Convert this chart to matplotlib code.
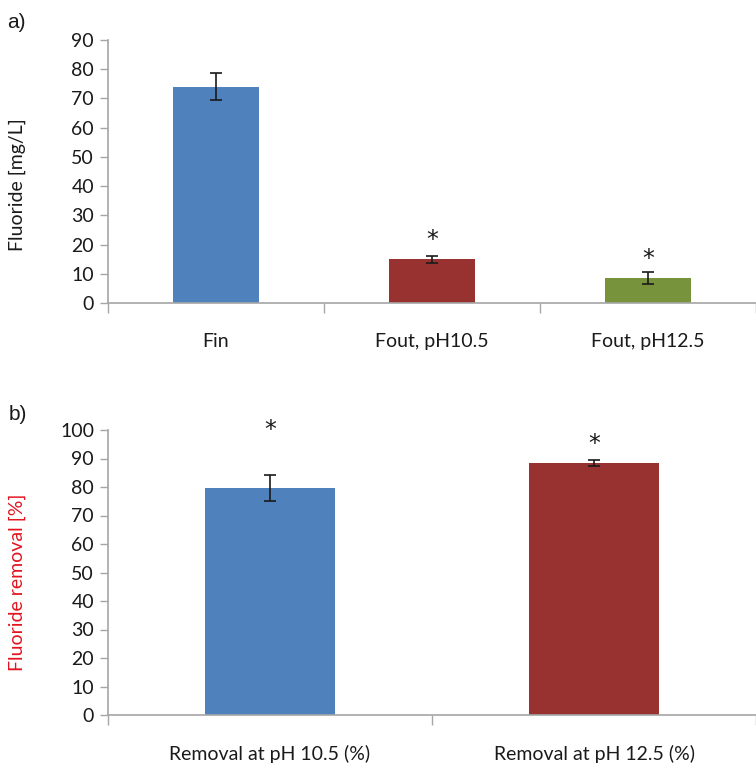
import numpy as np
import matplotlib.pyplot as plt

plt.rcParams['font.family'] = ['Lato', 'DejaVu Sans']

# panel a: fluoride concentration
cat_a = ['Fin', 'Fout, pH10.5', 'Fout, pH12.5']
val_a = [74.0, 15.0, 8.6]
err_a = [4.6, 1.2, 2.0]
star_a = [None, 24.0, 17.5]
col_a = ['#4F81BD', '#973230', '#77933C']

# panel b: removal efficiency
cat_b = ['Removal at pH 10.5 (%)', 'Removal at pH 12.5 (%)']
val_b = [79.7, 88.3]
err_b = [4.5, 1.0]
star_b = [102.5, 97.5]
col_b = ['#4F81BD', '#973230']

W, H = 756, 766
fig = plt.figure(figsize=(W / 100, H / 100), dpi=100)

txt = '#1a1a1a'
grey = '#a6a6a6'


def panel(rect, cats, vals, errs, stars, cols, ymax, ylab, labcol, laby,
          tag, tagxy):
    ax = fig.add_axes(rect)
    x = np.arange(len(cats))
    ax.bar(x, vals, width=0.4, color=cols, zorder=2)
    ax.errorbar(x, vals, yerr=errs, fmt='none', ecolor=txt, elinewidth=1.2,
                capsize=4, capthick=1.2, zorder=3)
    # significance asterisks, centred on the given value
    for xi, s in zip(x, stars):
        if s is not None:
            ax.annotate('*', (xi, s), xytext=(0, -10), textcoords='offset points',
                        ha='center', va='baseline', fontsize=17,
                        family='DejaVu Sans', color=txt, annotation_clip=False)
    ncat = len(cats)
    width_px = rect[2] * W
    cat_px = 654 / ncat
    ax.set_xlim(-0.5, -0.5 + width_px / cat_px)
    ax.set_ylim(0, ymax)
    ax.set_yticks(np.arange(0, ymax + 1, 10))
    ax.set_xticks(list(np.arange(-0.5, ncat, 1.0)))
    ax.set_xticklabels([])
    ax.set_xticks(x, minor=True)
    ax.set_xticklabels(cats, minor=True)
    ax.tick_params(axis='x', which='major', length=7, color=grey, width=1)
    ax.tick_params(axis='x', which='minor', length=0, pad=21.5,
                   labelsize=14, labelcolor=txt)
    ax.tick_params(axis='y', length=6, color=grey, width=1, labelsize=14,
                   labelcolor=txt, pad=4)
    for side in ['top', 'right']:
        ax.spines[side].set_visible(False)
    for side in ['left', 'bottom']:
        ax.spines[side].set_color(grey)
        ax.spines[side].set_linewidth(1.2)
    ax.set_ylabel(ylab, fontsize=14, color=labcol, va='center')
    ax.yaxis.set_label_coords((17 - 108) / width_px, laby)
    fig.text(tagxy[0], tagxy[1], tag, fontsize=15, color=txt,
             family='Liberation Sans', ha='left', va='center')
    return ax


panel([108 / W, 1 - 303 / H, 1 - 108 / W, 263 / H], cat_a, val_a, err_a,
      star_a, col_a, 90, 'Fluoride [mg/L]', txt, 0.45,
      'a)', (7 / W, 1 - 22 / H))
panel([108 / W, 1 - 715 / H, 1 - 108 / W, 285 / H], cat_b, val_b, err_b,
      star_b, col_b, 100, 'Fluoride removal [%]', '#E3141E', 0.467,
      'b)', (9 / W, 1 - 415 / H))

fig.savefig('out.png', dpi=100)
